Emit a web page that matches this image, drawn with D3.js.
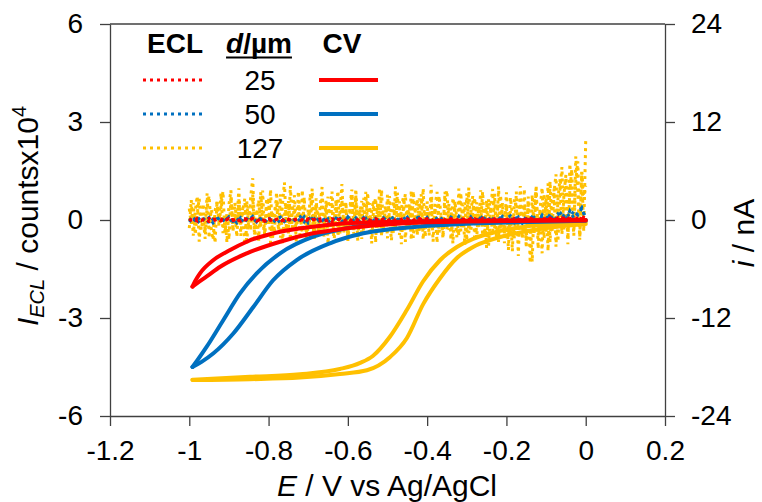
<!DOCTYPE html>
<html>
<head>
<meta charset="utf-8">
<script src="https://cdn.jsdelivr.net/npm/d3@7"></script>
<style>
  html, body { margin: 0; padding: 0; background: #fff; }
  svg { display: block; font-family: "Liberation Sans", Arial, sans-serif; }
</style>
</head>
<body>
<svg id="chart" width="762" height="502"></svg>
<script>
// Axis ticks
const xTicks = [-1.2, -1, -0.8, -0.6, -0.4, -0.2, 0, 0.2];
const eclTicks = [-6, -3, 0, 3, 6];
const cvTicks = [-24, -12, 0, 12, 24];

// Legend rows: electrode diameter (µm)
const diameters = ["25", "50", "127"];
const seriesColors = ["#FF0000", "#0070C0", "#FFC000"];

// ECL potential grid, 10 mV steps (V vs Ag/AgCl)
const eclPotential = [
  -1.00,-0.99,-0.98,-0.97,-0.96,-0.95,-0.94,-0.93,-0.92,-0.91,
  -0.90,-0.89,-0.88,-0.87,-0.86,-0.85,-0.84,-0.83,-0.82,-0.81,
  -0.80,-0.79,-0.78,-0.77,-0.76,-0.75,-0.74,-0.73,-0.72,-0.71,
  -0.70,-0.69,-0.68,-0.67,-0.66,-0.65,-0.64,-0.63,-0.62,-0.61,
  -0.60,-0.59,-0.58,-0.57,-0.56,-0.55,-0.54,-0.53,-0.52,-0.51,
  -0.50,-0.49,-0.48,-0.47,-0.46,-0.45,-0.44,-0.43,-0.42,-0.41,
  -0.40,-0.39,-0.38,-0.37,-0.36,-0.35,-0.34,-0.33,-0.32,-0.31,
  -0.30,-0.29,-0.28,-0.27,-0.26,-0.25,-0.24,-0.23,-0.22,-0.21,
  -0.20,-0.19,-0.18,-0.17,-0.16,-0.15,-0.14,-0.13,-0.12,-0.11,
  -0.10,-0.09,-0.08,-0.07,-0.06,-0.05,-0.04,-0.03,-0.02,-0.01,
  0.00
];
// ECL potential grid, 5 mV steps (127 µm electrode)
const eclPotentialFine = [
  -1.000,-0.995,-0.990,-0.985,-0.980,-0.975,-0.970,-0.965,-0.960,-0.955,
  -0.950,-0.945,-0.940,-0.935,-0.930,-0.925,-0.920,-0.915,-0.910,-0.905,
  -0.900,-0.895,-0.890,-0.885,-0.880,-0.875,-0.870,-0.865,-0.860,-0.855,
  -0.850,-0.845,-0.840,-0.835,-0.830,-0.825,-0.820,-0.815,-0.810,-0.805,
  -0.800,-0.795,-0.790,-0.785,-0.780,-0.775,-0.770,-0.765,-0.760,-0.755,
  -0.750,-0.745,-0.740,-0.735,-0.730,-0.725,-0.720,-0.715,-0.710,-0.705,
  -0.700,-0.695,-0.690,-0.685,-0.680,-0.675,-0.670,-0.665,-0.660,-0.655,
  -0.650,-0.645,-0.640,-0.635,-0.630,-0.625,-0.620,-0.615,-0.610,-0.605,
  -0.600,-0.595,-0.590,-0.585,-0.580,-0.575,-0.570,-0.565,-0.560,-0.555,
  -0.550,-0.545,-0.540,-0.535,-0.530,-0.525,-0.520,-0.515,-0.510,-0.505,
  -0.500,-0.495,-0.490,-0.485,-0.480,-0.475,-0.470,-0.465,-0.460,-0.455,
  -0.450,-0.445,-0.440,-0.435,-0.430,-0.425,-0.420,-0.415,-0.410,-0.405,
  -0.400,-0.395,-0.390,-0.385,-0.380,-0.375,-0.370,-0.365,-0.360,-0.355,
  -0.350,-0.345,-0.340,-0.335,-0.330,-0.325,-0.320,-0.315,-0.310,-0.305,
  -0.300,-0.295,-0.290,-0.285,-0.280,-0.275,-0.270,-0.265,-0.260,-0.255,
  -0.250,-0.245,-0.240,-0.235,-0.230,-0.225,-0.220,-0.215,-0.210,-0.205,
  -0.200,-0.195,-0.190,-0.185,-0.180,-0.175,-0.170,-0.165,-0.160,-0.155,
  -0.150,-0.145,-0.140,-0.135,-0.130,-0.125,-0.120,-0.115,-0.110,-0.105,
  -0.100,-0.095,-0.090,-0.085,-0.080,-0.075,-0.070,-0.065,-0.060,-0.055,
  -0.050,-0.045,-0.040,-0.035,-0.030,-0.025,-0.020,-0.015,-0.010,-0.005,
  0.000
];

// ECL intensity (counts x10^4), cathodic and anodic sweeps
const ecl25Cathodic = [
  0.03,-0.04,0.05,-0.02,0.04,-0.05,0.02,0.04,-0.03,0.05,
  -0.04,0.02,-0.05,0.03,0.01,-0.03,0.05,-0.04,0.03,-0.02,
  0.04,-0.03,0.02,-0.05,0.03,0.01,-0.03,0.04,-0.02,0.05,
  -0.04,0.02,-0.01,0.04,-0.03,0.02,-0.05,0.03,0.01,-0.04,
  0.04,-0.02,0.03,-0.04,0.02,0.04,-0.03,0.02,-0.05,0.03,
  -0.02,0.04,-0.03,0.01,0.05,-0.03,0.02,-0.04,0.04,-0.01,
  0.03,-0.04,0.05,-0.02,0.02,-0.03,0.04,0.01,-0.04,0.03,
  -0.02,0.05,-0.03,0.04,-0.01,0.05,-0.03,0.04,-0.02,0.05,
  0.01,-0.03,0.05,-0.02,0.04,-0.03,0.05,0.02,-0.02,0.05,
  0.03,0.06,-0.01,0.07,0.03,0.08,0.04,0.09,0.05,0.10,0.06
];
const ecl25Anodic = [
  -0.02,0.04,-0.04,0.03,-0.01,0.05,-0.04,0.02,0.03,-0.03,
  0.05,-0.02,0.03,-0.04,0.04,0.00,0.05,-0.03,0.02,-0.04,
  0.04,-0.05,0.02,0.05,-0.02,0.03,-0.04,0.02,0.05,-0.03,
  0.04,-0.02,0.05,-0.03,0.01,-0.04,0.04,-0.01,0.03,-0.04,
  0.05,-0.02,0.03,-0.03,0.04,0.00,-0.04,0.04,-0.02,0.03,
  -0.04,0.05,-0.01,0.03,-0.02,0.04,-0.03,0.02,0.05,-0.02,
  0.04,-0.04,0.02,-0.02,0.05,-0.03,0.03,-0.04,0.05,-0.01,
  0.03,-0.03,0.04,-0.02,0.05,-0.04,0.03,-0.01,0.04,-0.03,
  0.02,0.05,-0.03,0.03,-0.04,0.04,-0.02,0.03,-0.03,0.05,
  -0.01,0.06,-0.02,0.05,0.07,-0.01,0.08,0.02,0.07,0.04,0.03
];
const ecl50Cathodic = [
  0.05,-0.08,0.10,-0.04,0.07,-0.10,0.03,0.09,-0.06,0.11,
  -0.07,0.04,-0.09,0.08,0.02,-0.05,0.10,-0.08,0.06,-0.03,
  0.09,-0.07,0.05,-0.10,0.07,0.01,-0.06,0.08,-0.04,0.10,
  -0.09,0.05,-0.02,0.08,-0.07,0.04,-0.11,0.06,0.02,-0.08,
  0.09,-0.05,0.07,-0.09,0.03,0.08,-0.06,0.05,-0.10,0.07,
  -0.04,0.09,-0.07,0.02,0.10,-0.06,0.05,-0.08,0.08,-0.03,
  0.06,-0.09,0.11,-0.05,0.04,-0.07,0.09,0.01,-0.08,0.06,
  -0.05,0.10,-0.07,0.08,-0.03,0.12,-0.06,0.09,-0.04,0.11,
  0.02,-0.07,0.13,-0.05,0.10,-0.08,0.14,0.03,-0.06,0.12,
  0.05,0.16,-0.04,0.19,0.08,0.22,0.10,0.27,0.15,0.35,0.05
];
const ecl50Anodic = [
  -0.06,0.09,-0.10,0.05,-0.03,0.08,-0.09,0.04,0.07,-0.05,
  0.10,-0.04,0.06,-0.08,0.09,-0.01,0.11,-0.06,0.04,-0.09,
  0.07,-0.10,0.03,0.09,-0.05,0.06,-0.08,0.04,0.10,-0.06,
  0.08,-0.03,0.09,-0.07,0.02,-0.09,0.07,-0.02,0.05,-0.08,
  0.10,-0.04,0.06,-0.06,0.08,0.01,-0.09,0.07,-0.04,0.05,
  -0.08,0.10,-0.03,0.06,-0.05,0.09,-0.07,0.04,0.10,-0.05,
  0.08,-0.08,0.05,-0.04,0.10,-0.06,0.06,-0.09,0.11,-0.03,
  0.06,-0.07,0.09,-0.05,0.12,-0.08,0.07,-0.02,0.10,-0.06,
  0.05,0.13,-0.07,0.09,-0.10,0.12,-0.04,0.08,-0.06,0.15,
  -0.03,0.18,-0.05,0.14,0.24,-0.02,0.28,0.06,0.22,0.38,0.04
];
const ecl127Cathodic = [
  0.35,-0.12,0.52,-0.45,0.18,0.66,-0.30,0.08,-0.58,0.41,
  0.74,-0.22,-0.61,0.29,0.55,-0.08,0.83,-0.40,0.12,-0.69,
  0.47,0.91,-0.35,0.20,-0.52,0.63,-0.15,0.38,-0.76,0.58,
  -0.27,0.72,1.28,-0.44,0.31,-0.63,0.85,0.04,-0.49,0.67,
  -0.18,0.93,-0.57,0.26,0.61,-0.33,0.79,-0.71,0.14,0.52,
  -0.41,1.05,-0.24,0.45,-0.66,0.88,0.09,-0.37,0.70,-0.55,
  0.33,-0.20,0.96,-0.62,0.48,0.17,-0.45,0.81,-0.29,0.59,
  -0.73,0.40,0.87,-0.16,0.62,-0.50,0.25,1.10,-0.38,0.55,
  -0.64,0.21,0.77,-0.42,0.95,-0.11,0.36,-0.58,0.68,-0.26,
  0.84,-0.47,0.30,0.61,-0.69,0.50,-0.19,0.92,-0.35,0.43,
  -0.56,0.73,0.06,-0.40,1.02,-0.28,0.57,-0.74,0.34,0.80,
  -0.21,0.49,-0.61,0.88,0.15,-0.47,0.66,-0.33,0.97,-0.52,
  0.28,-0.15,0.71,-0.66,0.44,0.86,-0.39,0.12,-0.57,0.63,
  0.91,-0.30,0.37,-0.72,0.58,0.02,-0.48,0.83,-0.25,0.54,
  -0.63,0.99,-0.36,0.22,0.69,-0.55,0.41,-0.17,0.87,-0.44,
  0.60,-0.79,0.32,0.95,-0.28,0.51,-0.67,0.76,0.10,-0.41,
  0.85,-0.52,0.27,-0.96,0.64,0.38,-0.31,1.04,-0.58,0.46,
  -0.85,0.72,-0.24,-1.28,0.58,0.90,-0.47,0.33,-1.02,0.81,
  -0.36,1.12,-0.68,0.49,0.95,-0.82,0.64,1.25,-0.44,0.77,
  1.38,-0.58,0.92,1.55,-0.31,1.20,1.80,-0.52,1.46,0.62,
  1.05
];
const ecl127Anodic = [
  -0.25,0.61,-0.48,0.27,0.73,-0.66,0.14,0.50,-0.37,0.82,
  -0.55,0.33,0.09,-0.71,0.59,-0.19,0.44,0.88,-0.42,0.23,
  -0.60,0.70,-0.28,0.53,-0.13,0.97,-0.49,0.31,0.65,-0.74,
  0.42,-0.33,0.78,-0.58,0.19,0.61,-0.23,0.90,-0.46,0.37,
  0.68,-0.70,0.26,-0.39,0.85,0.11,-0.54,0.47,1.15,-0.32,
  0.58,-0.61,0.35,0.76,-0.20,0.49,-0.68,0.92,-0.27,0.13,
  -0.47,0.80,0.24,-0.59,0.66,-0.34,0.43,1.01,-0.52,0.30,
  0.71,-0.26,0.55,-0.69,0.17,0.89,-0.43,0.62,-0.14,0.48,
  -0.57,0.36,0.93,-0.31,0.75,-0.64,0.21,0.58,-0.45,0.86,
  -0.18,0.52,-0.72,0.40,0.67,-0.36,0.98,-0.50,0.29,-0.23,
  0.77,0.05,-0.63,0.59,-0.29,0.84,-0.46,0.35,0.71,-0.67,
  0.45,-0.21,0.90,-0.55,0.26,0.63,-0.38,0.79,-0.60,0.18,
  0.57,-0.48,1.08,-0.27,0.40,-0.70,0.74,0.13,-0.42,0.87,
  -0.32,0.50,-0.61,0.68,0.24,-0.53,0.96,-0.35,0.46,-0.77,
  0.82,-0.40,0.19,0.73,-0.64,0.55,-0.22,0.91,-0.48,0.37,
  -0.86,0.64,0.28,-0.45,0.80,-0.59,1.02,-0.30,0.53,-0.71,
  0.44,-0.92,0.69,0.15,-0.56,0.87,-1.10,0.62,-0.34,0.95,
  -0.63,0.48,-1.32,0.77,-0.40,1.06,-0.88,0.35,0.99,-0.57,
  0.70,-0.95,1.18,-0.38,0.84,1.40,-0.66,0.92,1.62,-0.29,
  1.30,-0.74,1.72,0.55,-0.48,1.95,0.88,-0.60,1.48,-0.35,
  2.42
];

// Cyclic voltammograms, current in nA; each sweep branch listed in ascending potential
const cv25OuterE = [-0.992,-0.975,-0.956,-0.922,-0.855,-0.771,-0.688,-0.603,-0.519,-0.418,-0.30,-0.20,0.00];
const cv25OuterI = [-8.15,-7.55,-6.90,-5.72,-4.08,-2.66,-1.63,-1.02,-0.61,-0.30,-0.18,-0.12,-0.05];
const cv25InnerE = [-0.992,-0.985,-0.973,-0.939,-0.897,-0.855,-0.771,-0.688,-0.603,-0.45,-0.30,0.00];
const cv25InnerI = [-8.15,-7.45,-6.53,-4.90,-3.67,-2.66,-1.43,-0.82,-0.40,-0.18,-0.08,0.00];

const cv50OuterE = [-0.992,-0.970,-0.939,-0.889,-0.838,-0.788,-0.729,-0.645,-0.561,-0.42,-0.30,-0.20,0.00];
const cv50OuterI = [-18.0,-17.4,-16.32,-13.9,-10.62,-7.35,-4.90,-2.85,-1.63,-0.80,-0.45,-0.30,-0.10];
const cv50InnerE = [-0.992,-0.980,-0.956,-0.914,-0.872,-0.830,-0.771,-0.687,-0.603,-0.519,-0.40,-0.20,0.00];
const cv50InnerI = [-18.0,-17.2,-15.51,-12.24,-8.98,-6.53,-4.08,-2.04,-1.02,-0.40,-0.20,-0.08,0.00];

const cv127OuterE = [-0.992,-0.847,-0.721,-0.620,-0.552,-0.494,-0.451,-0.410,-0.367,-0.325,-0.284,-0.241,-0.158,-0.115,0.00];
const cv127OuterI = [-19.6,-19.5,-19.3,-18.85,-18.4,-16.8,-14.45,-10.3,-7.1,-4.65,-3.3,-2.45,-1.45,-1.1,-0.5];
const cv127InnerE = [-0.992,-0.847,-0.721,-0.620,-0.569,-0.537,-0.494,-0.451,-0.410,-0.367,-0.325,-0.284,-0.241,-0.158,-0.065,0.00];
const cv127InnerI = [-19.55,-19.2,-18.9,-18.25,-17.5,-16.65,-14.3,-11.0,-7.5,-4.9,-3.3,-2.3,-1.65,-0.85,-0.43,-0.25];

const svg = d3.select("#chart");
const FONT = '"Liberation Sans", Arial, sans-serif';
const AXIS_COLOR = "#404040";

const x = d3.scaleLinear().domain([-1.2, 0.2]).range([110, 665]);
const yEcl = d3.scaleLinear().domain([-6, 6]).range([416, 24]);
const yCv = d3.scaleLinear().domain([-24, 24]).range([416, 24]);

const fmt = d => String(d);

function styleAxis(g) {
  g.attr("font-size", 28).attr("font-family", FONT);
  g.selectAll(".domain, .tick line").attr("stroke", AXIS_COLOR).attr("stroke-width", 1.3);
  g.selectAll("text").attr("fill", "#000");
}

// Frame: top edge
svg.append("line")
  .attr("x1", x(-1.2)).attr("x2", x(0.2))
  .attr("y1", yEcl(6)).attr("y2", yEcl(6))
  .attr("stroke", AXIS_COLOR).attr("stroke-width", 1.3);

svg.append("g").attr("transform", `translate(0,${yEcl(-6)})`)
  .call(d3.axisBottom(x).tickValues(xTicks).tickFormat(fmt).tickSize(10).tickSizeOuter(0).tickPadding(14))
  .call(styleAxis);

svg.append("g").attr("transform", `translate(${x(-1.2)},0)`)
  .call(d3.axisLeft(yEcl).tickValues(eclTicks).tickFormat(fmt).tickSize(10).tickSizeOuter(0).tickPadding(17))
  .call(styleAxis);

svg.append("g").attr("transform", `translate(${x(0.2)},0)`)
  .call(d3.axisRight(yCv).tickValues(cvTicks).tickFormat(fmt).tickSize(10).tickSizeOuter(0).tickPadding(16))
  .call(styleAxis);

// ECL traces (dotted)
const DOT = "3 4";
const eclSeries = [
  { E: eclPotentialFine, data: ecl127Cathodic, color: seriesColors[2] },
  { E: eclPotentialFine, data: ecl127Anodic,   color: seriesColors[2] },
  { E: eclPotential,     data: ecl50Cathodic,  color: seriesColors[1] },
  { E: eclPotential,     data: ecl50Anodic,    color: seriesColors[1] },
  { E: eclPotential,     data: ecl25Cathodic,  color: seriesColors[0] },
  { E: eclPotential,     data: ecl25Anodic,    color: seriesColors[0] }
];
eclSeries.forEach(s => {
  const line = d3.line()
    .x((d, i) => x(s.E[i]))
    .y(d => yEcl(d));
  svg.append("path")
    .attr("d", line(s.data))
    .attr("fill", "none")
    .attr("stroke", s.color)
    .attr("stroke-width", 3)
    .attr("stroke-dasharray", DOT);
});

// CV traces (solid), one smooth path per sweep branch
const cvBranches = [
  { E: cv127OuterE, I: cv127OuterI, color: seriesColors[2] },
  { E: cv127InnerE, I: cv127InnerI, color: seriesColors[2] },
  { E: cv50OuterE,  I: cv50OuterI,  color: seriesColors[1] },
  { E: cv50InnerE,  I: cv50InnerI,  color: seriesColors[1] },
  { E: cv25OuterE,  I: cv25OuterI,  color: seriesColors[0] },
  { E: cv25InnerE,  I: cv25InnerI,  color: seriesColors[0] }
];
cvBranches.forEach(s => {
  const line = d3.line()
    .x((d, i) => x(s.E[i]))
    .y(d => yCv(d))
    .curve(d3.curveMonotoneX);
  svg.append("path")
    .attr("d", line(s.I))
    .attr("fill", "none")
    .attr("stroke", s.color)
    .attr("stroke-width", 4)
    .attr("stroke-linejoin", "round")
    .attr("stroke-linecap", "round");
});

// Legend
const legend = svg.append("g").attr("font-family", FONT).attr("font-size", 28).attr("fill", "#000");
legend.append("text").attr("x", 175).attr("y", 53).attr("text-anchor", "middle")
  .attr("font-weight", "bold").text("ECL");
const dHead = legend.append("text").attr("x", 259).attr("y", 53).attr("text-anchor", "middle")
  .attr("font-weight", "bold");
dHead.append("tspan").attr("font-style", "italic").text("d");
dHead.append("tspan").text("/µm");
const bb = dHead.node().getBBox();
legend.append("line")
  .attr("x1", bb.x).attr("x2", bb.x + bb.width)
  .attr("y1", 57.5).attr("y2", 57.5)
  .attr("stroke", "#000").attr("stroke-width", 2);
legend.append("text").attr("x", 342).attr("y", 53).attr("text-anchor", "middle")
  .attr("font-weight", "bold").text("CV");

const rowY = [80, 114, 148];
diameters.forEach((d, i) => {
  legend.append("line")
    .attr("x1", 143).attr("x2", 203).attr("y1", rowY[i]).attr("y2", rowY[i])
    .attr("stroke", seriesColors[i]).attr("stroke-width", 3).attr("stroke-dasharray", DOT);
  legend.append("text").attr("x", 260).attr("y", rowY[i]).attr("dy", "0.35em")
    .attr("text-anchor", "middle").text(d);
  legend.append("line")
    .attr("x1", 319).attr("x2", 378).attr("y1", rowY[i]).attr("y2", rowY[i])
    .attr("stroke", seriesColors[i]).attr("stroke-width", 4);
});

// Axis titles
const xTitle = svg.append("text").attr("x", 387).attr("y", 496).attr("text-anchor", "middle")
  .attr("font-family", FONT).attr("font-size", 30).attr("fill", "#000");
xTitle.append("tspan").attr("font-style", "italic").text("E");
xTitle.append("tspan").text(" / V vs Ag/AgCl");

const yTitle = svg.append("text").attr("transform", "translate(38,216) rotate(-90)")
  .attr("text-anchor", "middle").attr("font-family", FONT).attr("font-size", 30).attr("fill", "#000");
yTitle.append("tspan").attr("font-style", "italic").text("I");
yTitle.append("tspan").attr("font-style", "italic").attr("font-size", 20).attr("dy", 6).text("ECL");
yTitle.append("tspan").attr("dy", -6).text(" / countsx10");
yTitle.append("tspan").attr("font-size", 20).attr("dy", -12).text("4");

const y2Title = svg.append("text").attr("transform", "translate(754,233) rotate(-90)")
  .attr("text-anchor", "middle").attr("font-family", FONT).attr("font-size", 30).attr("fill", "#000");
y2Title.append("tspan").attr("font-style", "italic").text("i");
y2Title.append("tspan").text(" / nA");
</script>
</body>
</html>
